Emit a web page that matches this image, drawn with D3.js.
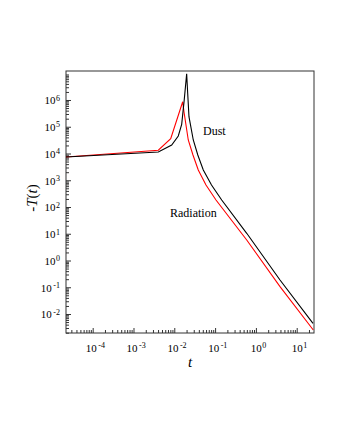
<!DOCTYPE html>
<html>
<head>
<meta charset="utf-8">
<script src="https://cdn.jsdelivr.net/npm/d3@7"></script>
<style>
  body { margin: 0; background: #fff; }
</style>
</head>
<body>
<svg width="340" height="440"></svg>
<script>
var width = 340;
var height = 440;
var margin = {left: 66, top: 71, right: 26, bottom: 107};
var serif = '"Liberation Serif", "Times New Roman", "DejaVu Serif", serif';

// Dust solution (black)
var tDust = [2.22e-5, 0.00406, 0.00863, 0.01253, 0.01518, 0.01757, 0.0201,
             0.0213, 0.0229, 0.0292, 0.0377, 0.0514, 0.0817, 0.1452, 0.596, 3.90, 25.1];
var TDust = [7400, 11400, 20800, 45100, 123600, 1.06e6, 9.6e6,
             1.78e6, 2.38e5, 32000, 8790, 2415, 664, 183, 10.4, 0.187, 0.00449];

// Radiation solution (red)
var tRad = [2.22e-5, 0.00406, 0.00817, 0.01607, 0.0173, 0.0220, 0.0287,
            0.0387, 0.0598, 0.1052, 0.596, 3.90, 25.5];
var TRad = [7400, 13200, 35700, 8.63e5, 3.56e5, 32000, 8790,
            2415, 664, 183, 5.83, 0.105, 0.00252];

var xTicks = [1e-4, 1e-3, 1e-2, 1e-1, 1e0, 1e1];
var yTicks = [1e-2, 1e-1, 1e0, 1e1, 1e2, 1e3, 1e4, 1e5, 1e6];

var svg = d3.select('svg');

// Scales
var xScale = d3.scaleLog()
                .domain([Math.pow(10, -4.654), Math.pow(10, 1.424)])
                .range([margin.left, width - margin.right]);

var yScale = d3.scaleLog()
                .domain([Math.pow(10, -2.71), Math.pow(10, 7.084)])
                .range([height - margin.bottom, margin.top]);

// minor ticks: 2..9 inside each decade
function minors(scale) {
  var d = scale.domain(), out = [];
  for (var e = Math.floor(Math.log10(d[0])); e <= Math.ceil(Math.log10(d[1])); e++) {
    for (var m = 2; m <= 9; m++) {
      var v = m * Math.pow(10, e);
      if (v >= d[0] && v <= d[1]) out.push(v);
    }
  }
  return out;
}

// superscript labels 10^n
function powLabel(sel) {
  sel.each(function(d) {
    var e = Math.round(Math.log10(d));
    var t = d3.select(this).text('');
    t.append('tspan').text('10');
    t.append('tspan')
      .attr('dy', '-0.45em')
      .attr('dx', e < 0 ? 1.5 : 0.5)
      .style('font-size', '8px')
      .text(e < 0 ? '-' + (-e) : e);
  });
}

// Minor tick axes
svg.append('g')
    .attr('transform', 'translate(' + margin.left + ',0)')
    .call(d3.axisLeft(yScale).tickValues(minors(yScale)).tickSizeInner(-3).tickSizeOuter(0).tickFormat(''))
    .call(g => g.select('.domain').remove());

svg.append('g')
    .attr('transform', 'translate(0,' + (height - margin.bottom) + ')')
    .call(d3.axisBottom(xScale).tickValues(minors(xScale)).tickSizeInner(-3).tickSizeOuter(0).tickFormat(''))
    .call(g => g.select('.domain').remove());

// Major tick axes
var yAxisG = svg.append('g')
    .attr('transform', 'translate(' + margin.left + ',0)')
    .call(d3.axisLeft(yScale).tickValues(yTicks).tickSizeInner(-5).tickSizeOuter(0).tickPadding(6));
yAxisG.select('.domain').remove();
yAxisG.selectAll('text')
    .attr('dy', '0.35em')
    .call(powLabel);

var xAxisG = svg.append('g')
    .attr('transform', 'translate(0,' + (height - margin.bottom) + ')')
    .call(d3.axisBottom(xScale).tickValues(xTicks).tickSizeInner(-5).tickSizeOuter(0));
xAxisG.select('.domain').remove();
xAxisG.selectAll('text')
    .attr('y', 19)
    .attr('dy', 0)
    .attr('dx', '0.2em')
    .call(powLabel);

svg.selectAll('.tick text')
    .attr('fill', '#000')
    .style('font-size', '11px');

svg.selectAll('.tick line').attr('stroke', '#333');

// Frame
svg.append('rect')
    .attr('x', margin.left)
    .attr('y', margin.top)
    .attr('width', width - margin.left - margin.right)
    .attr('height', height - margin.top - margin.bottom)
    .attr('fill', 'none')
    .attr('stroke', '#333')
    .attr('stroke-width', 1);

// Curves
var line = d3.line()
    .x(d => xScale(d[0]))
    .y(d => yScale(d[1]));

svg.append('path')
    .datum(d3.zip(tRad, TRad))
    .attr('d', line)
    .attr('fill', 'none')
    .attr('stroke', '#ff0000')
    .attr('stroke-width', 1.1);

svg.append('path')
    .datum(d3.zip(tDust, TDust))
    .attr('d', line)
    .attr('fill', 'none')
    .attr('stroke', '#000')
    .attr('stroke-width', 1.1);

// Annotations
svg.append('text')
    .attr('x', 203)
    .attr('y', 135)
    .style('font-size', '12px')
    .text('Dust');

svg.append('text')
    .attr('x', 170)
    .attr('y', 217)
    .style('font-size', '12px')
    .text('Radiation');

// Axis titles
svg.append('text')
    .attr('x', (margin.left + width - margin.right) / 2)
    .attr('y', 367)
    .style('text-anchor', 'middle')
    .style('font-size', '15px')
    .style('font-style', 'italic')
    .text('t');

var yTitle = svg.append('text')
    .attr('transform', 'translate(37,198) rotate(-90)')
    .style('text-anchor', 'middle')
    .style('font-size', '15px');
yTitle.append('tspan').text('-');
yTitle.append('tspan').style('font-style', 'italic').text('T');
yTitle.append('tspan').text('(');
yTitle.append('tspan').style('font-style', 'italic').text('t');
yTitle.append('tspan').text(')');

svg.selectAll('text').style('font-family', serif);
</script>
</body>
</html>
